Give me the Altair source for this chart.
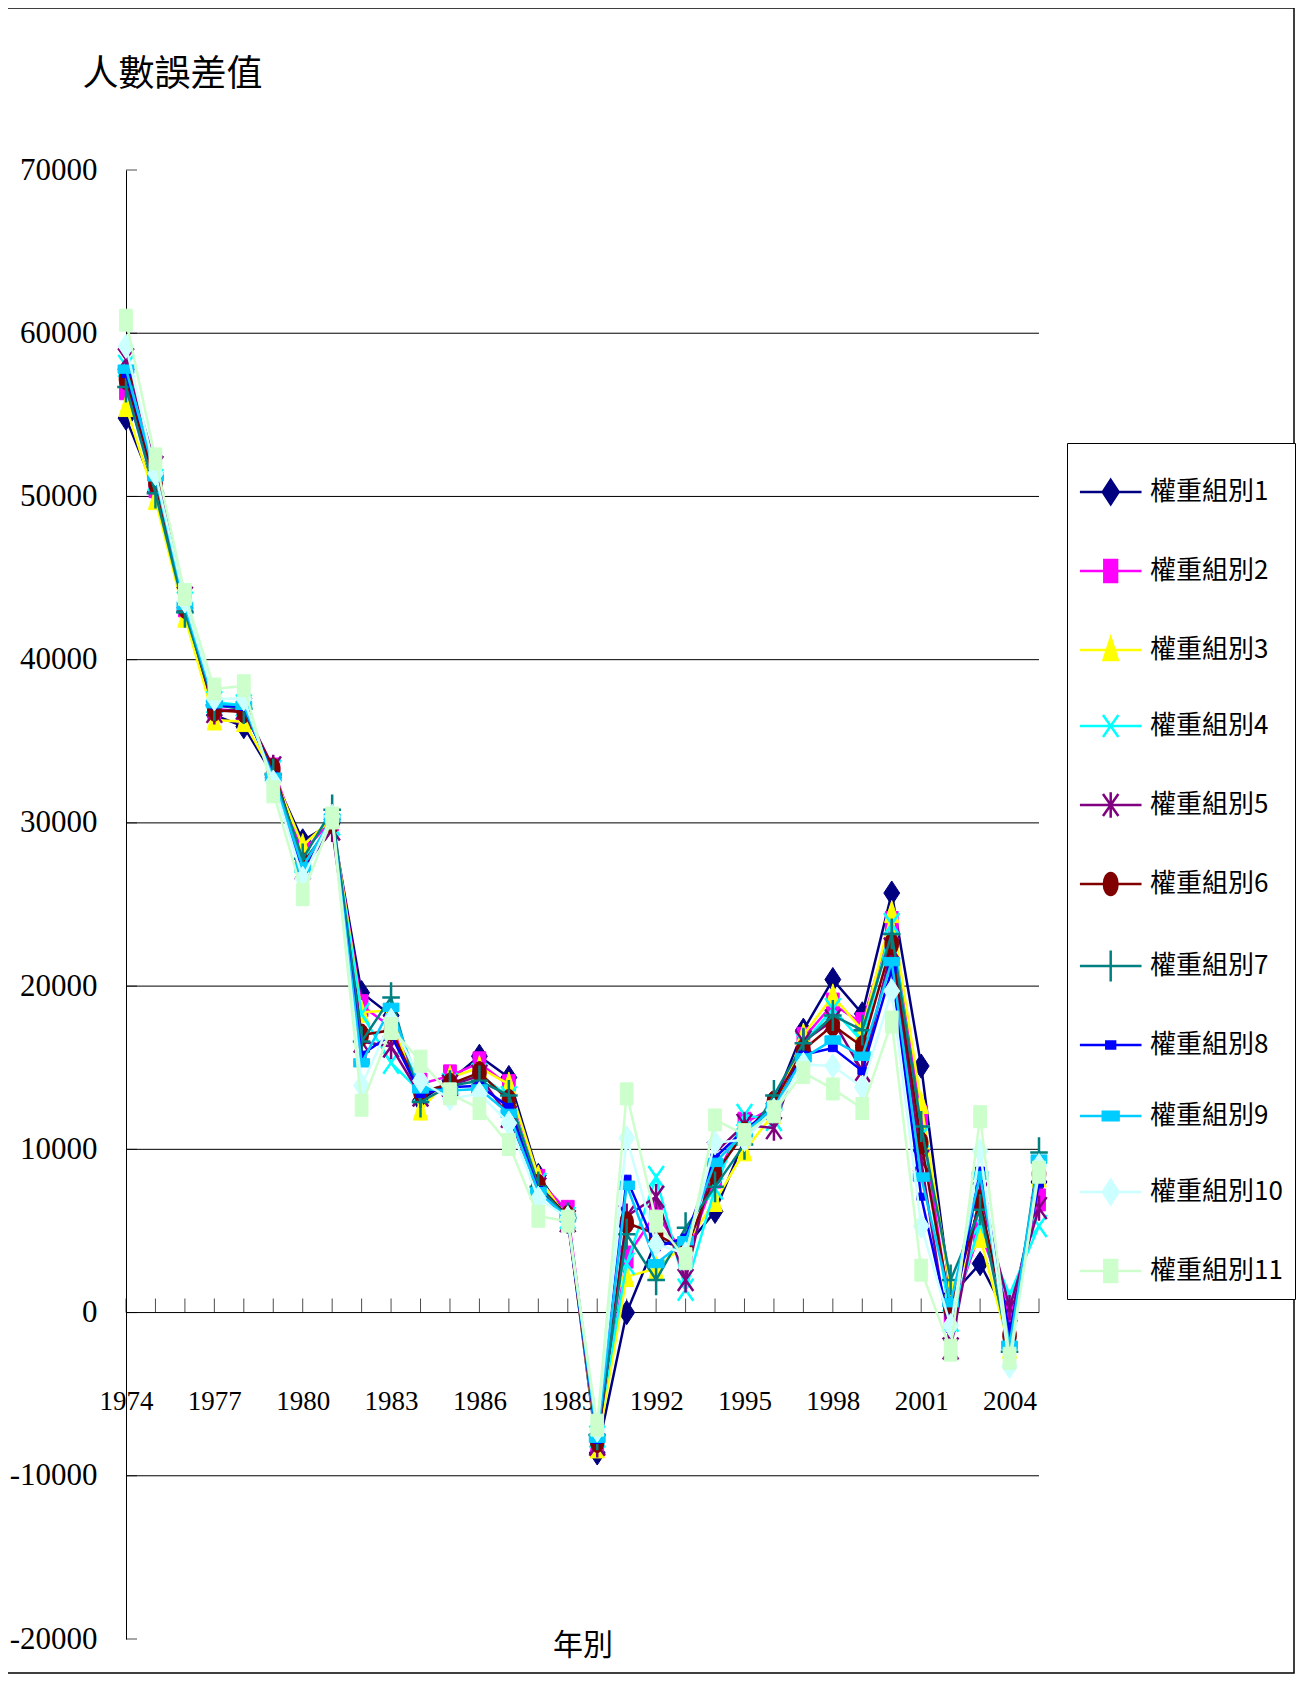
import altair as alt
import pandas as pd

# ---------------- data ----------------
years = list(range(1974, 2006))
names = [f"權重組別{i}" for i in range(1, 12)]

s1 = [54800, 50300, 43000, 36600, 35900, 32900, 28900, 30000, 19600, 18200, 13000, 14200, 15700, 14400, 8400, 5800,
      -8600, 0, 4400, 4000, 6200, 10600, 12800, 17300, 20400, 18300, 25700, 15100, 1000, 3000, -500, 8000]
s2 = [56600, 50600, 43300, 37000, 36800, 33300, 28200, 30200, 18800, 17500, 14000, 14500, 15300, 13900, 8100, 6200,
      -8000, 3400, 6100, 3400, 8300, 11600, 12600, 16800, 18900, 17700, 23900, 12000, -300, 5000, 100, 6900]
s3 = [55500, 49800, 42600, 36300, 36200, 33000, 28600, 30300, 18400, 18500, 12400, 14400, 15000, 14000, 8300, 5700,
      -8300, 2200, 2700, 4200, 6800, 9900, 12200, 17000, 19400, 17300, 24500, 12800, 1400, 4600, -2200, 8300]
s4 = [58000, 51000, 43500, 37400, 37200, 33200, 27600, 29900, 18300, 15300, 13500, 14000, 14600, 13200, 7900, 5800,
      -7600, 3000, 8300, 1400, 7600, 12100, 11800, 16500, 18600, 16600, 23800, 10800, -500, 5400, 1100, 5300]
s5 = [58400, 51800, 43800, 36800, 37000, 33400, 27200, 29600, 16600, 16300, 13300, 13900, 14500, 12000, 7600, 5600,
      -8100, 5900, 7100, 2000, 9800, 11500, 11300, 16600, 17900, 14800, 22300, 9300, -2200, 7300, 300, 6400]
s6 = [57200, 50800, 43200, 36900, 36800, 33300, 27500, 30000, 17000, 17300, 13500, 14000, 14700, 13000, 7800, 5900,
      -7900, 5500, 4800, 3800, 8500, 11000, 12900, 16100, 17600, 16300, 22600, 10400, 300, 6800, -1400, 8500]
s7 = [56700, 50200, 42900, 37200, 37000, 33000, 27800, 30800, 16600, 19300, 12900, 13900, 14200, 13300, 7700, 5800,
      -7500, 4800, 2000, 5200, 7700, 10300, 13300, 16500, 18200, 17300, 23200, 11400, 2000, 6300, -2400, 9800]
s8 = [57500, 51300, 43400, 37200, 37100, 32900, 26900, 30100, 15800, 17000, 13400, 13800, 13900, 12600, 7500, 5700,
      -7800, 8200, 4000, 4600, 9500, 11200, 12500, 15800, 16200, 14800, 21000, 7100, -1000, 8700, -1300, 7900]
s9 = [57800, 51200, 43300, 37300, 37200, 32800, 27300, 30300, 15300, 18700, 13700, 13600, 13700, 12200, 7400, 5800,
      -7700, 7800, 3000, 4400, 9200, 11000, 12600, 15600, 16700, 15700, 21500, 8300, 600, 8400, -2000, 9400]
s10 = [59200, 51400, 43600, 37600, 37600, 32500, 26600, 30400, 13900, 17900, 14200, 13100, 13400, 11600, 7000, 5800,
       -7200, 10700, 4200, 3600, 10400, 10600, 12400, 15200, 15100, 13800, 19700, 5300, -800, 9900, -3300, 9000]
s11 = [60800, 52300, 44000, 38200, 38400, 31900, 25600, 30300, 12700, 17400, 15400, 13400, 12500, 10300, 5900, 5600,
       -6900, 13400, 5600, 3300, 11800, 10900, 12300, 14700, 13700, 12500, 17800, 2600, -2300, 12000, -2800, 8600]
series = [s1, s2, s3, s4, s5, s6, s7, s8, s9, s10, s11]

colors = ["#000080", "#FF00FF", "#FFFF00", "#00FFFF", "#800080", "#800000",
          "#008080", "#0000FF", "#00CCFF", "#CCFFFF", "#CCFFCC"]
kinds = ["diamond", "square", "triangle", "x", "asterisk", "ellipse",
         "plus", "shortdash", "longdash", "diamond", "square"]

y_ticks = list(range(-20000, 70001, 10000))
grid_values = list(range(-10000, 60001, 10000))
x_label_years = list(range(1974, 2005, 3))

rows = []
for n, vals in zip(names, series):
    for yr, v in zip(years, vals):
        rows.append({"series": n, "year": yr, "value": v})
df = pd.DataFrame(rows)

grid_df = pd.DataFrame({"value": grid_values, "year": [years[0]] * len(grid_values),
                        "year_end": [years[-1]] * len(grid_values)})
ytick_df = pd.DataFrame({"value": y_ticks, "year": [years[0]] * len(y_ticks)})
xtick_df = pd.DataFrame({"year": years, "value": [0] * len(years)})


# ---------------- marker shapes (style) ----------------
def marker_path(kind, cx=0.0):
    def p(x, y):
        return f"{x + cx:.3f},{y:.3f}"
    if kind == "diamond":
        return f"M{p(0,-1.1)}L{p(0.72,0)}L{p(0,1.1)}L{p(-0.72,0)}Z"
    if kind == "square":
        return f"M{p(-0.58,-1)}L{p(0.58,-1)}L{p(0.58,1)}L{p(-0.58,1)}Z"
    if kind == "triangle":
        return f"M{p(0,-1.1)}L{p(0.65,0.9)}L{p(-0.65,0.9)}Z"
    if kind == "x":
        return f"M{p(-0.7,-1)}L{p(0.7,1)}M{p(-0.7,1)}L{p(0.7,-1)}"
    if kind == "asterisk":
        return f"M{p(-0.7,-1)}L{p(0.7,1)}M{p(-0.7,1)}L{p(0.7,-1)}M{p(0,-1.15)}L{p(0,1.15)}"
    if kind == "ellipse":
        rx, ry, k = 0.62, 1.0, 0.5523
        return (f"M{p(0,-ry)}C{p(k*rx,-ry)} {p(rx,-k*ry)} {p(rx,0)}"
                f"C{p(rx,k*ry)} {p(k*rx,ry)} {p(0,ry)}"
                f"C{p(-k*rx,ry)} {p(-rx,k*ry)} {p(-rx,0)}"
                f"C{p(-rx,-k*ry)} {p(-k*rx,-ry)} {p(0,-ry)}Z")
    if kind == "plus":
        return f"M{p(0,-1.4)}L{p(0,1.4)}M{p(-0.8,0)}L{p(0.8,0)}"
    if kind == "shortdash":
        return f"M{p(-0.4,-0.32)}L{p(0.4,-0.32)}L{p(0.4,0.32)}L{p(-0.4,0.32)}Z"
    if kind == "longdash":
        return f"M{p(-0.72,-0.38)}L{p(0.72,-0.38)}L{p(0.72,0.38)}L{p(-0.72,0.38)}Z"
    return "circle"


open_kinds = {"x", "asterisk", "plus"}
legend_paths = ["M-1.1,0L4.5,0" + marker_path(k, 1.7) for k in kinds]

# ---------------- layout ----------------
W, H = 913, 1469
zero_offset = H * 70000 / 90000 - H

xs = alt.Scale(domain=[years[0], years[-1]], nice=False, zero=False)
ys = alt.Scale(domain=[y_ticks[0], y_ticks[-1]], nice=False, zero=False)

xaxis = alt.Axis(values=x_label_years, labelExpr="'' + datum.value", offset=zero_offset,
                 domain=False, ticks=False, grid=False, labelFont="Liberation Serif",
                 labelFontSize=27, labelColor="black", labelPadding=89, labelBaseline="middle",
                 labelFlush=False, labelOverlap=False,
                 title="年別", titleFont="Noto Sans CJK TC", titleFontSize=30,
                 titleFontWeight="normal", titleColor="black", titleY=333, titleBaseline="middle")
yaxis = alt.Axis(values=y_ticks, labelExpr="'' + datum.value", domain=True, domainColor="black",
                 domainWidth=1, ticks=False, grid=False, labelFont="Liberation Serif",
                 labelFontSize=31, labelColor="black", labelPadding=29, labelFlush=False,
                 labelOverlap=False,
                 title="人數誤差值", titleAngle=0, titleX=46, titleY=-96, titleAlign="center",
                 titleBaseline="middle", titleFont="Noto Sans CJK TC", titleFontSize=36,
                 titleFontWeight="normal", titleColor="black")

X = alt.X("year:Q", scale=xs, axis=xaxis)
Y = alt.Y("value:Q", scale=ys, axis=yaxis)
cscale = alt.Scale(domain=names, range=colors)

legend = alt.Legend(
    orient="none", legendX=941, legendY=273, direction="vertical",
    title=" ", titleFontSize=16, titlePadding=8,
    padding=12, strokeColor="black", fillColor="white", cornerRadius=0,
    symbolSize=484, symbolStrokeWidth=2.5, symbolOpacity=1,
    labelFont="Noto Sans CJK TC", labelFontSize=26, labelColor="black",
    labelOffset=45, labelLimit=400, rowPadding=45,
)

frame = alt.Chart(pd.DataFrame({"k": [0]})).mark_rect(
    fillOpacity=0, stroke="black", strokeWidth=1.5
).encode(x=alt.value(-119), x2=alt.value(1168), y=alt.value(-162), y2=alt.value(1503))

grid = alt.Chart(grid_df).mark_rule(color="black", strokeWidth=1).encode(
    x=X, x2="year_end:Q", y=Y)
yticks = alt.Chart(ytick_df).mark_tick(orient="horizontal", size=11, thickness=1,
                                       xOffset=5.5, color="black").encode(x=X, y=Y)
xticks = alt.Chart(xtick_df).mark_tick(orient="vertical", size=14, thickness=1,
                                       yOffset=-7, color="black").encode(x=X, y=Y)

layers = [frame, grid, yticks, xticks]
for i, n in enumerate(names):
    base = alt.Chart(df).transform_filter(alt.datum.series == n)
    line = base.mark_line(strokeWidth=2.5, opacity=1, color=colors[i]).encode(x=X, y=Y)
    sw = 2.5 if kinds[i] in open_kinds else 1
    pts = base.mark_point(shape=marker_path(kinds[i]), size=484, filled=True, opacity=1,
                          fill=colors[i], stroke=colors[i], strokeWidth=sw).encode(x=X, y=Y)
    layers += [line, pts]

# legend-carrier layer: one row per series, moved outside the x domain and clipped away
legend_layer = alt.Chart(df).transform_filter(
    alt.datum.year == years[0]
).transform_calculate(
    year_out="datum.year - 100"
).mark_point(filled=True, opacity=1, strokeWidth=2.5, clip=True, size=484).encode(
    x=alt.X("year_out:Q", scale=xs, axis=xaxis), y=Y,
    fill=alt.Fill("series:N", scale=cscale, legend=legend),
    stroke=alt.Stroke("series:N", scale=cscale, legend=legend),
    shape=alt.Shape("series:N", scale=alt.Scale(domain=names, range=legend_paths), legend=legend),
)
layers.append(legend_layer)

chart = alt.layer(*layers).properties(
    width=W, height=H,
    padding={"left": 118, "top": 162, "right": 257, "bottom": 36},
    autosize=alt.AutoSizeParams(type="none"),
    background="white",
).configure_view(strokeWidth=0)

chart.save("out.html", embed_options={"renderer": "svg", "actions": False})
